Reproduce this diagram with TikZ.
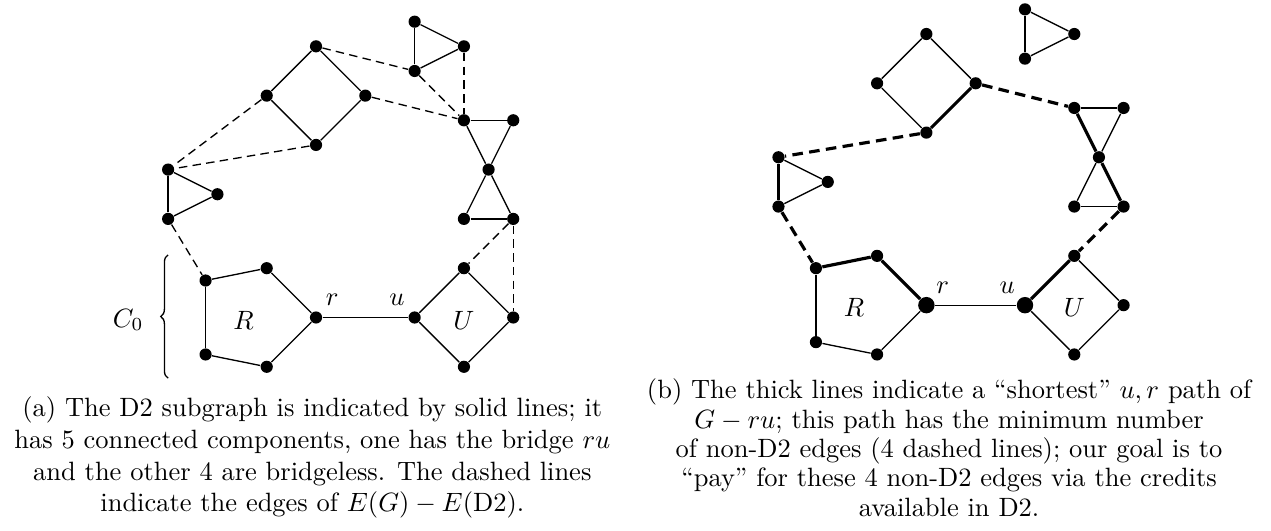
\documentclass[tikz,border=0pt]{standalone}
\usepackage{amsmath,amssymb}
\usetikzlibrary{positioning, decorations.pathreplacing}

\begin{document}
\begin{tikzpicture}[
    x=0.6545cm, y=0.6545cm,
    vertex/.style={circle, fill=black, inner sep=0pt, minimum size=4.6pt},
    dtwo/.style={line width=0.5pt},
    nondtwo/.style={line width=0.5pt, dash pattern=on 3.2pt off 2pt},
    pathedge/.style={line width=1.2pt},
    pathextra/.style={line width=1.2pt, dash pattern=on 4pt off 2.4pt},
    caption/.style={align=center, inner sep=0pt, anchor=base}
]
\useasboundingbox (0,0) rectangle (25.78,10.77);

% Vertices of both pictures (a = left, b = right)
\foreach \g/\sx/\sy/\rs in {a/6.41/4.33/4.6pt, b/18.79/4.58/6.2pt} {
  \begin{scope}[shift={(\sx,\sy)}]
    \node[vertex, minimum size=\rs] (\g r) at (0,0) {};
    \node[vertex, minimum size=\rs] (\g u) at (2,0) {};
    % pentagon R
    \node[vertex] (\g p1) at (-1,1) {};
    \node[vertex] (\g p2) at (-2.24,0.75) {};
    \node[vertex] (\g p3) at (-2.24,-0.75) {};
    \node[vertex] (\g p4) at (-1,-1) {};
    % square U
    \node[vertex] (\g q1) at (3,1) {};
    \node[vertex] (\g q2) at (4,0) {};
    \node[vertex] (\g q3) at (3,-1) {};
    % bowtie
    \node[vertex] (\g w1) at (3,4) {};
    \node[vertex] (\g w2) at (4,4) {};
    \node[vertex] (\g w3) at (3.5,3) {};
    \node[vertex] (\g w4) at (3,2) {};
    \node[vertex] (\g w5) at (4,2) {};
    % top triangle
    \node[vertex] (\g t1) at (2,6) {};
    \node[vertex] (\g t2) at (3,5.5) {};
    \node[vertex] (\g t3) at (2,5) {};
    % square
    \node[vertex] (\g s1) at (0,5.5) {};
    \node[vertex] (\g s2) at (-1,4.5) {};
    \node[vertex] (\g s3) at (1,4.5) {};
    \node[vertex] (\g s4) at (0,3.5) {};
    % left triangle
    \node[vertex] (\g l1) at (-3,3) {};
    \node[vertex] (\g l2) at (-2,2.5) {};
    \node[vertex] (\g l3) at (-3,2) {};
    % labels
    \node (\g rlab) at (0.33,0.36) {$r$};
    \node (\g ulab) at (1.64,0.36) {$u$};
    \node (\g Rlab) at (-1.47,-0.05) {$R$};
    \node (\g Ulab) at (3,-0.05) {$U$};
  \end{scope}
}

% D2 edges
\foreach \g in {a,b} {
  \foreach \p/\q in {r/u, r/p1, p1/p2, p2/p3, p3/p4, p4/r, u/q1, q1/q2, q2/q3, q3/u,
                     w1/w2, w1/w3, w2/w3, w3/w4, w3/w5, w4/w5, t1/t2, t2/t3, t3/t1,
                     s1/s2, s1/s3, s2/s4, s3/s4, l1/l2, l2/l3, l3/l1}
    \draw[dtwo] (\g\p) -- (\g\q);
}

% E(G) - E(D2)
\foreach \p/\q in {s1/t3, t3/w1, t2/w1, s3/w1, s2/l1, s4/l1, l3/p2, w5/q1, w5/q2}
  \draw[nondtwo] (a\p) -- (a\q);

% shortest u,r path
\foreach \p/\q in {l1/l3, p2/p1, p1/r, s3/s4, w1/w3, w3/w5, u/q1}
  \draw[pathedge] (b\p) -- (b\q);
\foreach \p/\q in {s4/l1, l3/p2, s3/w1, w5/q1}
  \draw[pathextra] (b\p) -- (b\q);

% C_0 brace
\coordinate (bracebot) at (3.41,3.10);
\coordinate (bracetop) at (3.41,5.60);
\draw[decorate, decoration={brace, amplitude=2.8pt}, line width=0.5pt] (bracebot) -- (bracetop);
\node (czero) at (2.6,4.28) {$C_0$};

% Captions (base = last line)
\node[caption, font={\fontsize{10}{12}\selectfont}] (capa) at (6.335,0.385)
  {(a) The D2 subgraph is indicated by solid lines; it\\
   has 5 connected components, one has the bridge $ru$\\
   and the other 4 are bridgeless. The dashed lines\\
   indicate the edges of $E(G)-E(\mathrm{D2})$.};
\node[caption, font={\fontsize{10}{11.1}\selectfont}] (capb) at (19.25,0.30)
  {(b) The thick lines indicate a ``shortest'' $u,r$ path of\\
   $G-ru$; this path has the minimum number\\
   of non-D2 edges (4 dashed lines); our goal is to\\
   ``pay'' for these 4 non-D2 edges via the credits\\
   available in D2.};

\end{tikzpicture}
\end{document}
